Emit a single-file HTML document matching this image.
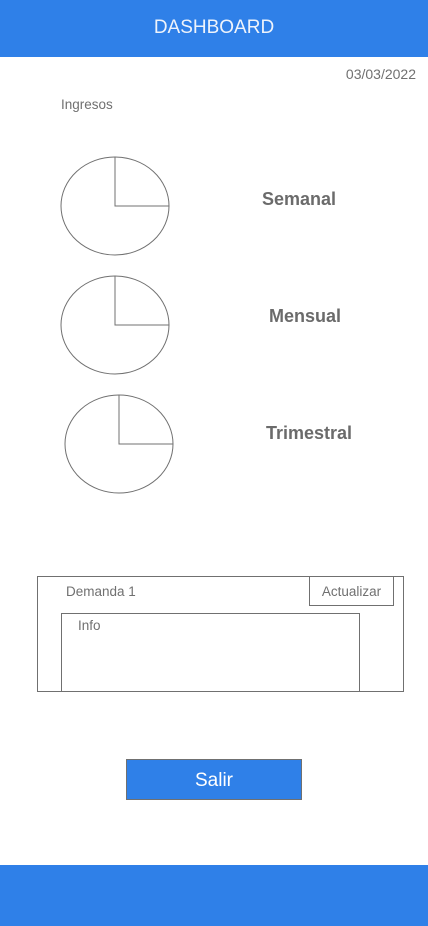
<!DOCTYPE html>
<html><head><meta charset="utf-8"><style>
body{margin:0;width:428px;height:926px;position:relative;background:#fff;font-family:"Liberation Sans",sans-serif;overflow:hidden}
.a{position:absolute}
.t{color:#707070;font-size:13px}
.lbl{font-size:18px;font-weight:bold;color:#6b6b6b;transform:translateX(-50%)}
</style></head><body>
<div class="a" style="left:0;top:0;width:428px;height:57px;background:#2f80e8"></div>
<div class="a" style="left:0;top:17px;width:428px;text-align:center;color:#eef3fb;font-size:19px">DASHBOARD</div>
<div class="a t" style="right:12px;top:66px;font-size:14px">03/03/2022</div>
<div class="a t" style="left:61px;top:97px;font-size:13.5px">Ingresos</div>
<svg class="a" id="pies" style="left:0;top:0" width="428" height="520"></svg>
<div class="a lbl" style="left:299px;top:189px">Semanal</div>
<div class="a lbl" style="left:305px;top:306px">Mensual</div>
<div class="a lbl" style="left:309px;top:423px">Trimestral</div>
<div class="a" style="left:37px;top:576px;width:365px;height:114px;border:1px solid #707070"></div>
<div class="a t" style="left:66px;top:584px;font-size:13.5px">Demanda 1</div>
<div class="a t" style="left:309px;top:576px;width:85px;height:30px;border:1px solid #707070;box-sizing:border-box;text-align:center;line-height:30px;font-size:13.5px">Actualizar</div>
<div class="a" style="left:61px;top:613px;width:297px;height:78px;border:1px solid #707070;border-bottom:none"></div>
<div class="a t" style="left:78px;top:618px;font-size:13.5px">Info</div>
<div class="a" style="left:126px;top:759px;width:176px;height:41px;background:#2f80e8;border:1px solid #707070;box-sizing:border-box;color:#fff;font-size:19px;text-align:center;line-height:41px">Salir</div>
<div class="a" style="left:0;top:865px;width:428px;height:61px;background:#2f80e8"></div>
<script>
const periods=["Semanal","Mensual","Trimestral"];
const sliceShare=[0.25,0.25,0.25];
const svg=document.getElementById('pies');
const ns='http://www.w3.org/2000/svg';
const cxs=[115,115,119],cys=[206,325,444];
periods.forEach((p,i)=>{
  const cx=cxs[i],cy=cys[i],rx=54,ry=49;
  const e=document.createElementNS(ns,'ellipse');
  
  
  e.setAttribute('cx',cx);e.setAttribute('cy',cy);e.setAttribute('rx',rx);e.setAttribute('ry',ry);
  e.setAttribute('fill','none');e.setAttribute('stroke','#707070');
  svg.appendChild(e);
  const a=sliceShare[i]*2*Math.PI;
  const ex=cx+rx*Math.sin(a),ey=cy-ry*Math.cos(a);
  const l=document.createElementNS(ns,'path');
  
  
  l.setAttribute('d',`M${cx} ${cy-ry}L${cx} ${cy}L${ex} ${ey}`);
  l.setAttribute('fill','none');l.setAttribute('stroke','#707070');
  svg.appendChild(l);
});
</script>
</body></html>
